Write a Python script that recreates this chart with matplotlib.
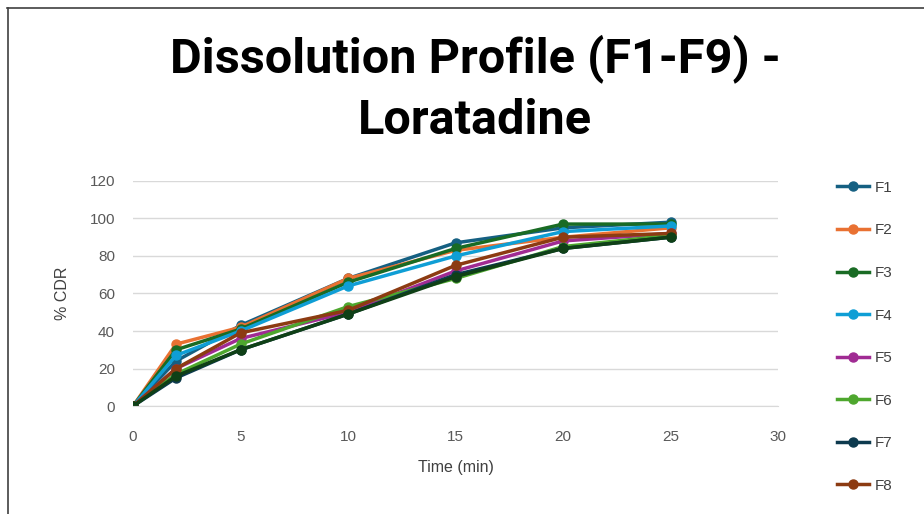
import matplotlib.pyplot as plt
from matplotlib.lines import Line2D

time = [0, 2, 5, 10, 15, 20, 25]
labels = ['F1', 'F2', 'F3', 'F4', 'F5', 'F6', 'F7', 'F8', 'F9']
f1 = [0, 24, 43, 68, 87, 95, 98]
f2 = [0, 33, 42, 68, 83, 90, 95]
f3 = [0, 30, 41, 66, 84, 97, 97]
f4 = [0, 27, 40, 64, 80, 93, 96]
f5 = [0, 20, 36, 50, 72, 88, 92]
f6 = [0, 17, 33, 53, 68, 85, 91]
f7 = [0, 15, 30, 49, 70, 84, 90]
f8 = [0, 20, 39, 51, 75, 90, 92]
f9 = [0, 16, 30, 49, 69, 84, 90]
series = [f1, f2, f3, f4, f5, f6, f7, f8, f9]
colors = ['#156082', '#E97132', '#196B24', '#0F9ED5', '#A02B93',
          '#4EA72E', '#0D3A4E', '#8C3B12', '#0F4016']

plt.rcParams['font.family'] = ['Liberation Sans', 'DejaVu Sans']

fig = plt.figure(figsize=(9.24, 5.14), dpi=100)
ax = fig.add_axes([0.144, 0.210, 0.698, 0.438])

for s, c, lab in zip(series, colors, labels):
  ax.plot(time, s, '-o', c=c, lw=2.5, ms=6.5, label=lab)

ax.set_xlim(0, 30)
ax.set_ylim(0, 120)
ax.set_xticks(range(0, 31, 5))
ax.set_yticks(range(0, 121, 20))
ax.grid(axis='y', c='#d9d9d9', lw=1)
ax.set_axisbelow(True)
for sp in ['top', 'right', 'left']:
  ax.spines[sp].set_visible(False)
ax.spines['bottom'].set_color('#d9d9d9')
ax.tick_params(axis='x', length=0, labelsize=11, colors='#595959', pad=17)
ax.tick_params(axis='y', length=0, labelsize=11, colors='#595959', pad=13)
ax.set_xlabel('Time (min)', fontsize=11.5, color='#404040', labelpad=12)
ax.set_ylabel('% CDR', fontsize=11.5, color='#404040', labelpad=14)

fig.text(0.514, 0.887, 'Dissolution Profile (F1-F9) -', ha='center', va='center',
         fontsize=35, fontweight='bold', family='Roboto')
fig.text(0.514, 0.765, 'Loratadine', ha='center', va='center',
         fontsize=35, fontweight='bold', family='Roboto')

# legend runs past the bottom edge in the original; F9 entry falls outside
h, l = ax.get_legend_handles_labels()
leg = fig.legend(h[:8], l[:8], loc='upper left', bbox_to_anchor=(0.891, 0.675),
                 frameon=False, fontsize=11, labelspacing=1.87, handlelength=2.1,
                 handletextpad=0.35, labelcolor='#404040')

# chart border (cropped on the right and bottom)
fig.add_artist(Line2D([0.008, 1], [0.985, 0.985], c='#404040', lw=1.2))
fig.add_artist(Line2D([0.009, 0.009], [0, 0.985], c='#404040', lw=1.2))

fig.savefig('out.png', dpi=100)
